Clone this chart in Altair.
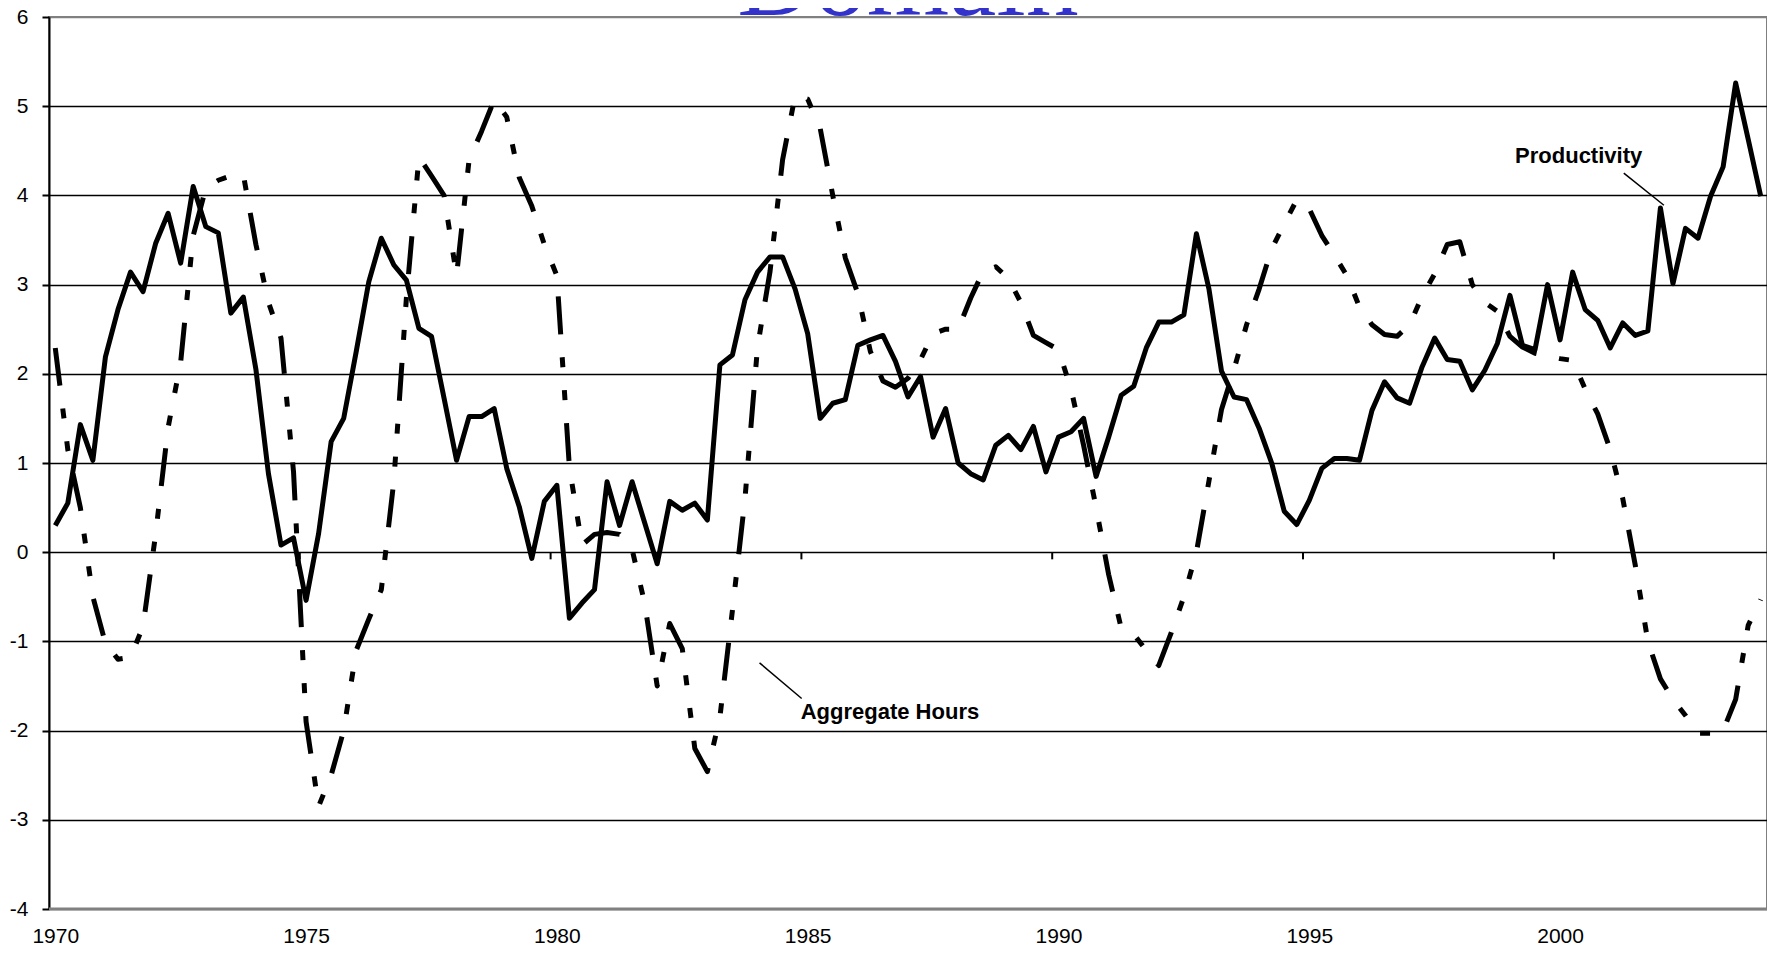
import altair as alt
import pandas as pd

# Quarterly series, 1970Q1 .. 2004Q1
productivity = [
    0.30, 0.55, 1.43, 1.03, 2.19, 2.72, 3.14, 2.92, 3.46, 3.80,
    3.24, 4.10, 3.65, 3.58, 2.68, 2.86, 2.05, 0.88, 0.08, 0.16,
    -0.54, 0.21, 1.24, 1.50, 2.25, 3.03, 3.52, 3.22, 3.05, 2.51,
    2.42, 1.73, 1.03, 1.52, 1.52, 1.61, 0.94, 0.51, -0.07, 0.57,
    0.75, -0.74, -0.57, -0.42, 0.79, 0.30, 0.79, 0.33, -0.13, 0.57,
    0.47, 0.55, 0.36, 2.10, 2.21, 2.83, 3.14, 3.31, 3.31, 2.95,
    2.45, 1.50, 1.67, 1.71, 2.32, 2.38, 2.43, 2.14, 1.74, 1.97,
    1.29, 1.61, 1.00, 0.88, 0.81, 1.20, 1.31, 1.15, 1.41, 0.90,
    1.29, 1.35, 1.50, 0.85, 1.29, 1.76, 1.86, 2.29, 2.58, 2.58,
    2.66, 3.57, 2.95, 2.03, 1.74, 1.71, 1.39, 1.00, 0.46, 0.31,
    0.58, 0.94, 1.05, 1.05, 1.03, 1.59, 1.91, 1.73, 1.67, 2.08,
    2.40, 2.16, 2.14, 1.82, 2.04, 2.34, 2.88, 2.32, 2.27, 3.00,
    2.38, 3.14, 2.72, 2.60, 2.29, 2.57, 2.43, 2.48, 3.86, 3.01,
    3.63, 3.52, 3.99, 4.32, 5.26, 4.63, 3.99,
]
hours = [
    2.29, 1.15, 0.50, -0.50, -1.02, -1.20, -1.18, -0.83, 0.20, 1.40,
    2.13, 3.55, 4.08, 4.17, 4.22, 4.23, 3.45, 2.80, 2.40, 0.90,
    -1.90, -2.85, -2.50, -2.00, -1.10, -0.75, -0.42, 0.80, 2.85, 4.43,
    4.22, 4.00, 3.10, 4.40, 4.72, 5.07, 4.88, 4.20, 3.88, 3.45,
    3.10, 0.95, 0.08, 0.20, 0.22, 0.20, 0.03, -0.57, -1.50, -0.80,
    -1.08, -2.20, -2.46, -1.85, -0.65, 0.60, 2.30, 3.15, 4.40, 5.12,
    5.08, 4.75, 4.00, 3.30, 2.90, 2.25, 1.92, 1.85, 1.95, 2.16,
    2.45, 2.50, 2.50, 2.85, 3.15, 3.20, 3.07, 2.80, 2.43, 2.35,
    2.27, 1.83, 1.20, 0.50, -0.25, -0.85, -0.92, -1.10, -1.27, -0.90,
    -0.50, 0.00, 0.80, 1.60, 2.05, 2.55, 2.95, 3.40, 3.68, 3.95,
    3.85, 3.55, 3.33, 3.10, 2.75, 2.55, 2.44, 2.42, 2.55, 2.87,
    3.12, 3.45, 3.48, 3.00, 2.80, 2.70, 2.42, 2.30, 2.23, 2.20,
    2.17, 2.15, 1.83, 1.55, 1.15, 0.60, -0.15, -1.00, -1.42, -1.65,
    -1.83, -2.03, -2.03, -2.00, -1.65, -0.82, -0.53,
]
quarters = [1970 + i * 0.25 for i in range(len(productivity))]

year_ticks = [1970, 1975, 1980, 1985, 1990, 1995, 2000]
y_ticks = [-4, -3, -2, -1, 0, 1, 2, 3, 4, 5, 6]

ann_labels = ["Productivity", "Aggregate Hours"]
ann_t = [2000.37, 1986.64]
ann_v = [4.36, -1.87]
lead_t1 = [2001.27, 1984.04]
lead_v1 = [4.25, -1.24]
lead_t2 = [2002.07, 1984.88]
lead_v2 = [3.89, -1.64]

title_text = ["Domain"]

df = pd.DataFrame({"t": quarters, "productivity": productivity, "hours": hours})
ticks_df = pd.DataFrame({"t": [y - 0.125 for y in year_ticks[1:]],
                         "y0": [0.0] * (len(year_ticks) - 1),
                         "y1": [-0.08] * (len(year_ticks) - 1)})
ann_df = pd.DataFrame({"label": ann_labels, "t": ann_t, "v": ann_v})
lead_df = pd.DataFrame({"t1": lead_t1, "v1": lead_v1, "t2": lead_t2, "v2": lead_v2})
title_df = pd.DataFrame({"label": title_text})
border_df = pd.DataFrame({"v": [-4]})

FONT = "Liberation Sans"
xscale = alt.Scale(domain=[1969.875, 2004.125], nice=False, zero=False)
yscale = alt.Scale(domain=[-4, 6], nice=False, zero=False)

x_axis = alt.Axis(values=year_ticks, format="d", grid=False, domain=False,
                  ticks=False, tickSize=0, labelPadding=16, labelFont=FONT,
                  labelFontSize=21, labelColor="black", labelFlush=False,
                  labelOverlap=False, title=None)
y_axis = alt.Axis(values=y_ticks, grid=True,
                  gridColor=alt.condition("datum.value == 6 || datum.value == -4",
                                          alt.value("#808080"), alt.value("#000000")),
                  gridWidth=1.6, domainColor="black", domainWidth=2,
                  tickColor="black", tickWidth=2, tickSize=7, labelPadding=14,
                  labelFont=FONT, labelFontSize=21, labelColor="black",
                  labelExpr="'' + datum.value", title=None)

prod_line = alt.Chart(df).mark_line(color="black", strokeWidth=5, strokeJoin="round").encode(
    x=alt.X("t:Q", scale=xscale, axis=x_axis),
    y=alt.Y("productivity:Q", scale=yscale, axis=y_axis),
)
hours_line = alt.Chart(df).mark_line(color="black", strokeWidth=5, strokeJoin="round",
                                     strokeDash=[38, 23, 10, 23, 10, 23]).encode(
    x=alt.X("t:Q", scale=xscale, axis=None),
    y=alt.Y("hours:Q", scale=yscale, axis=None),
)
zero_ticks = alt.Chart(ticks_df).mark_rule(color="black", strokeWidth=2).encode(
    x=alt.X("t:Q", scale=xscale, axis=None),
    y=alt.Y("y0:Q", scale=yscale, axis=None),
    y2="y1:Q",
)
bottom_border = alt.Chart(border_df).mark_rule(color="#808080", strokeWidth=3).encode(
    y=alt.Y("v:Q", scale=yscale, axis=None),
)
ann_text = alt.Chart(ann_df).mark_text(font=FONT, fontSize=22, fontWeight="bold",
                                       align="center", baseline="alphabetic",
                                       color="black").encode(
    x=alt.X("t:Q", scale=xscale, axis=None),
    y=alt.Y("v:Q", scale=yscale, axis=None),
    text="label:N",
)
leaders = alt.Chart(lead_df).mark_rule(color="black", strokeWidth=1.5).encode(
    x=alt.X("t1:Q", scale=xscale, axis=None),
    y=alt.Y("v1:Q", scale=yscale, axis=None),
    x2="t2:Q",
    y2="v2:Q",
)
title = alt.Chart(title_df).mark_text(font="Liberation Serif", fontSize=106,
                                      color="#3333CC", align="center",
                                      baseline="alphabetic").encode(
    x=alt.value(859), y=alt.value(-2), text="label:N",
)

chart = alt.layer(
    prod_line, hours_line, zero_ticks, bottom_border, leaders, ann_text, title
).resolve_axis(
    x="independent", y="independent"
).properties(
    width=1718, height=892,
    autosize=alt.AutoSizeParams(type="none"),
    padding={"left": 41, "top": 9, "right": 0, "bottom": 38},
).configure_view(stroke="#808080", strokeWidth=2)

chart.save("out.html", embed_options={"renderer": "svg", "actions": False})
